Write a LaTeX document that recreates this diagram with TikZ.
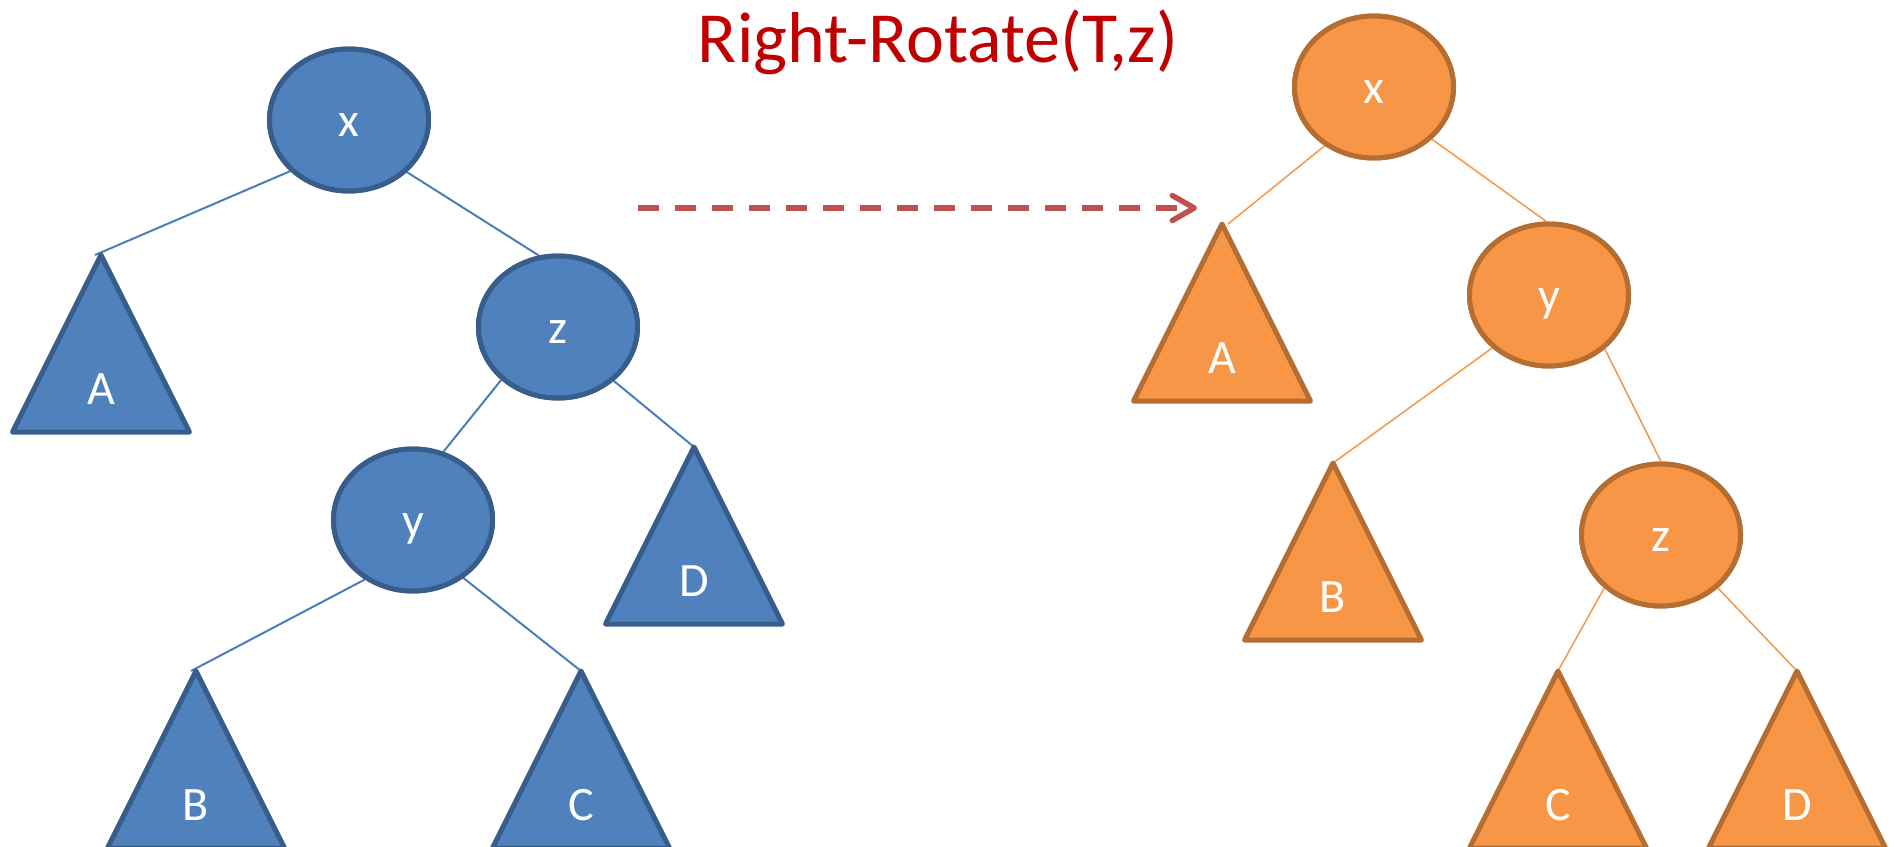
\documentclass[tikz,border=0pt]{standalone}
\usepackage{fontspec}
\setmainfont{Carlito}
\usetikzlibrary{arrows.meta,shapes.geometric}
\definecolor{bfill}{HTML}{4F81BD}
\definecolor{bborder}{HTML}{385D8A}
\definecolor{bedge}{HTML}{4A7EBB}
\definecolor{ofill}{HTML}{F79646}
\definecolor{oborder}{HTML}{B66D31}
\definecolor{oedge}{HTML}{F79646}
\definecolor{titlered}{HTML}{C00000}
\definecolor{arrowred}{HTML}{C0504D}
\begin{document}
\begin{tikzpicture}[x=0.5pt,y=-0.5pt,
  ell/.style={ellipse,line width=2.5pt,minimum width=79.5pt,minimum height=71pt,inner sep=0pt,
    text=white,font=\fontsize{24}{24}\selectfont,text height=16pt,text depth=0pt},
  bnode/.style={ell,draw=bborder,fill=bfill},
  onode/.style={ell,draw=oborder,fill=ofill},
  btri/.style={draw=bborder,fill=bfill,line width=2.5pt,line join=round},
  otri/.style={draw=oborder,fill=ofill,line width=2.5pt,line join=round},
  trilabel/.style={anchor=base,text=white,font=\fontsize{24}{24}\selectfont,inner sep=0pt},
  bline/.style={draw=bedge,line width=1pt},
  oline/.style={draw=oedge,line width=0.75pt}]
\clip (0,0) rectangle (1895,846);
\fill[white] (0,0) rectangle (1895,846);

% apex coordinates
\coordinate (AL) at (101,255);
\coordinate (DL) at (694,447);
\coordinate (BL) at (196,671);
\coordinate (CL) at (581,671);
\coordinate (AR) at (1222,224);
\coordinate (BR) at (1333,463);
\coordinate (CR) at (1558,671);
\coordinate (DR) at (1797,671);

% ellipse nodes
\node[bnode] (xL) at (349,120) {x};
\node[bnode] (zL) at (558,327) {z};
\node[bnode] (yL) at (413,520) {y};
\node[onode] (xR) at (1374,87) {x};
\node[onode] (yR) at (1549,295) {y};
\node[onode] (zR) at (1661,535) {z};

% edges
\draw[bline] (xL.221) -- ([xshift=-3pt]AL);
\draw[bline] (xL.318) -- (zL.105);
\draw[bline] (zL.223) -- (yL.66);
\draw[bline] (zL.316) -- (DL);
\draw[bline] (yL.231) -- ([xshift=-2.5pt]BL);
\draw[bline] (yL.311) -- (CL);
\draw[oline] (xR.230) -- ([xshift=3pt]AR);
\draw[oline] (xR.318) -- (yR.92);
\draw[oline] (yR.223) -- (BR);
\draw[oline] (yR.316) -- (zR.90);
\draw[oline] (zR.223) -- (CR);
\draw[oline] (zR.317) -- (DR);

% triangles
\draw[btri] (AL) -- ++(-88.5,177) -- ++(177,0) -- cycle;
\draw[btri] (DL) -- ++(-88.5,177) -- ++(177,0) -- cycle;
\draw[btri] (BL) -- ++(-88.5,177) -- ++(177,0) -- cycle;
\draw[btri] (CL) -- ++(-88.5,177) -- ++(177,0) -- cycle;
\draw[otri] (AR) -- ++(-88.5,177) -- ++(177,0) -- cycle;
\draw[otri] (BR) -- ++(-88.5,177) -- ++(177,0) -- cycle;
\draw[otri] (CR) -- ++(-88.5,177) -- ++(177,0) -- cycle;
\draw[otri] (DR) -- ++(-88.5,177) -- ++(177,0) -- cycle;

\node[trilabel] (lA1) at ([yshift=-74.5pt]AL) {A};
\node[trilabel] (lD1) at ([yshift=-74.5pt]DL) {D};
\node[trilabel] (lB1) at ([yshift=-74.5pt]BL) {B};
\node[trilabel] (lC1) at ([yshift=-74.5pt]CL) {C};
\node[trilabel] (lA2) at ([yshift=-74.5pt]AR) {A};
\node[trilabel] (lB2) at ([yshift=-74.5pt]BR) {B};
\node[trilabel] (lC2) at ([yshift=-74.5pt]CR) {C};
\node[trilabel] (lD2) at ([yshift=-74.5pt]DR) {D};

% redraw ellipses on top of edges
\node[bnode] (xLtop) at (xL) {x};
\node[bnode] (zLtop) at (zL) {z};
\node[bnode] (yLtop) at (yL) {y};
\node[onode] (xRtop) at (xR) {x};
\node[onode] (yRtop) at (yR) {y};
\node[onode] (zRtop) at (zR) {z};

% title and arrow
\node[anchor=base,text=titlered,font=\fontsize{36}{36}\selectfont,inner sep=0pt] (title) at (938,62) {Right-Rotate(T,z)};
\coordinate (arrS) at (638,208);
\coordinate (arrE) at (1197,208);
\draw[draw=arrowred,line width=3pt,dash pattern=on 10.5pt off 8pt,
  -{Straight Barb[length=11pt,width=12.5pt,line width=2.75pt,line cap=round,line join=round]}] (arrS) -- (arrE);
\end{tikzpicture}
\end{document}
